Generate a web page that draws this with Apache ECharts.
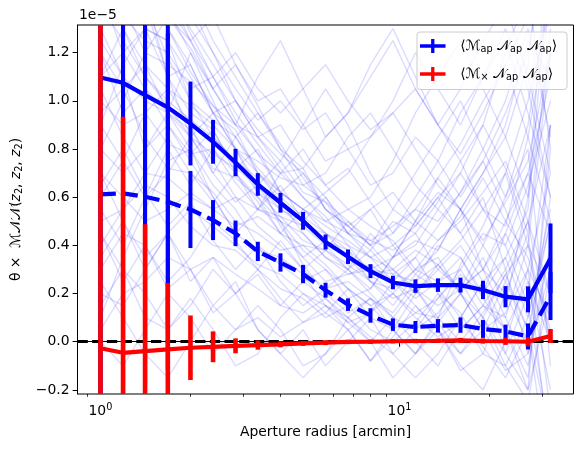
<!DOCTYPE html>
<html><head><meta charset="utf-8">
<script src="https://cdn.jsdelivr.net/npm/echarts@6/dist/echarts.min.js"></script>
<style>html,body{margin:0;padding:0;background:#fff}#c{width:583px;height:452px}</style>
</head><body><div id="c"></div>
<script>
// Aperture radii [arcmin]
const radii = [1.00, 1.19, 1.41, 1.68, 2.00, 2.38, 2.83, 3.36, 4.00, 4.76, 5.66, 6.73, 8.00, 9.51, 11.31, 13.45, 16.00, 19.03, 22.63, 26.91, 32.00];
// values in units of 1e-5
const mapMean = [1.097, 1.075, 1.024, 0.973, 0.906, 0.830, 0.744, 0.653, 0.577, 0.502, 0.414, 0.353, 0.293, 0.246, 0.231, 0.235, 0.235, 0.215, 0.187, 0.176, 0.346];
const mapErr  = [1.600, 1.300, 1.100, 0.900, 0.174, 0.091, 0.057, 0.047, 0.041, 0.037, 0.031, 0.030, 0.029, 0.028, 0.028, 0.028, 0.031, 0.038, 0.044, 0.054, 0.145];
const mapMean2 = [0.612, 0.616, 0.602, 0.581, 0.549, 0.505, 0.450, 0.375, 0.329, 0.281, 0.214, 0.154, 0.109, 0.071, 0.061, 0.066, 0.069, 0.053, 0.043, 0.022, 0.190];
const mapErr2  = [1.000, 0.900, 0.800, 0.700, 0.160, 0.083, 0.053, 0.040, 0.038, 0.038, 0.031, 0.026, 0.030, 0.026, 0.025, 0.028, 0.032, 0.037, 0.028, 0.054, 0.100];
const mxMean = [-0.027, -0.046, -0.039, -0.032, -0.025, -0.021, -0.017, -0.014, -0.011, -0.007, -0.004, -0.001, 0.000, 0.002, 0.003, 0.004, 0.006, 0.003, 0.002, 0.000, 0.024];
const mxErr  = [1.600, 0.980, 0.527, 0.276, 0.134, 0.064, 0.031, 0.019, 0.012, 0.010, 0.010, 0.009, 0.009, 0.009, 0.009, 0.009, 0.010, 0.011, 0.015, 0.019, 0.029];
// individual realisations (faint lines)
const realisations = [
 [2.10,1.90,1.60,1.30,1.15,0.95,0.80,0.62,0.55,0.48,0.40,0.30,0.22,0.35,0.50,0.62,0.55,0.30,0.10,-0.10,0.40],
 [0.60,0.75,0.95,1.05,0.90,0.70,0.58,0.65,0.50,0.32,0.20,0.12,0.18,0.05,-0.05,0.10,0.32,0.48,0.70,1.00,1.40],
 [1.50,1.35,1.25,1.20,1.05,1.10,0.92,0.78,0.70,0.72,0.55,0.48,0.40,0.45,0.60,0.75,0.95,1.10,1.25,0.95,0.60],
 [0.30,0.45,0.40,0.25,0.35,0.50,0.42,0.30,0.18,0.08,0.12,0.05,-0.08,0.02,0.15,0.05,-0.12,-0.05,0.20,0.45,-0.30],
 [1.80,1.55,1.40,1.18,1.00,0.85,0.75,0.68,0.48,0.35,0.42,0.38,0.25,0.15,0.28,0.22,0.10,0.25,-0.05,-0.20,0.90],
 [0.90,1.15,1.30,1.25,1.10,0.95,0.88,0.70,0.62,0.55,0.45,0.40,0.35,0.30,0.20,0.30,0.40,0.25,0.35,0.55,1.60],
 [1.20,1.05,0.85,0.72,0.70,0.62,0.50,0.45,0.38,0.40,0.32,0.22,0.10,0.05,0.12,0.18,0.30,0.45,0.40,0.15,-0.40],
 [2.40,2.00,1.70,1.50,1.28,1.10,0.95,0.82,0.70,0.60,0.50,0.55,0.48,0.42,0.30,0.35,0.20,0.05,0.12,0.30,0.70],
 [0.10,0.35,0.55,0.75,0.80,0.65,0.55,0.40,0.32,0.25,0.30,0.18,0.22,0.35,0.42,0.38,0.55,0.70,0.85,1.15,2.00],
 [1.60,1.70,1.55,1.35,1.22,1.05,0.90,0.85,0.72,0.60,0.52,0.40,0.28,0.20,0.10,0.02,0.08,-0.02,-0.15,0.05,0.50],
 [0.80,0.70,0.80,0.90,0.75,0.60,0.45,0.38,0.35,0.28,0.15,0.10,0.18,0.12,0.25,0.40,0.35,0.18,0.05,-0.15,0.80],
 [1.90,1.60,1.30,1.25,1.00,0.92,0.85,0.70,0.58,0.45,0.35,0.30,0.38,0.50,0.45,0.30,0.22,0.40,0.60,0.80,-0.10],
 [1.00,0.90,0.95,0.82,0.78,0.80,0.66,0.55,0.52,0.42,0.38,0.30,0.20,0.10,0.00,-0.10,0.05,0.15,0.10,0.40,1.20],
 [2.80,2.30,1.90,1.60,1.40,1.20,1.00,0.85,0.75,0.62,0.58,0.45,0.38,0.28,0.35,0.48,0.62,0.75,0.55,0.30,0.10],
 [0.50,0.55,0.65,0.60,0.48,0.40,0.38,0.30,0.22,0.18,0.10,0.15,0.05,0.00,0.08,0.20,0.12,-0.05,-0.10,0.10,0.55],
 [1.30,1.45,1.50,1.38,1.20,1.00,0.80,0.75,0.68,0.65,0.58,0.50,0.42,0.48,0.55,0.50,0.62,0.80,1.00,1.30,0.85],
 [0.70,0.60,0.50,0.55,0.62,0.55,0.48,0.52,0.45,0.35,0.25,0.28,0.32,0.25,0.15,0.05,-0.05,0.05,0.25,0.05,-0.60],
 [2.00,1.80,1.45,1.10,0.95,0.88,0.70,0.58,0.45,0.40,0.38,0.32,0.25,0.22,0.30,0.25,0.35,0.20,0.45,0.70,1.10],
 [1.40,1.25,1.10,1.00,0.92,0.85,0.75,0.62,0.52,0.48,0.45,0.38,0.30,0.35,0.40,0.55,0.45,0.60,0.30,-0.05,0.30],
 [0.20,0.15,0.30,0.45,0.55,0.48,0.40,0.32,0.28,0.20,0.15,0.08,0.12,0.20,0.12,0.10,0.20,0.35,0.15,0.60,1.80],
 [1.70,1.40,1.20,1.15,1.08,0.98,0.90,0.78,0.62,0.55,0.48,0.42,0.35,0.25,0.18,0.25,0.30,0.15,0.05,0.25,-0.20],
 [1.10,1.20,1.05,0.95,0.85,0.72,0.68,0.60,0.50,0.38,0.30,0.22,0.15,0.20,0.30,0.42,0.50,0.62,0.75,0.50,0.20],
 [2.50,2.20,1.85,1.45,1.30,1.15,1.00,0.88,0.78,0.70,0.60,0.48,0.40,0.30,0.22,0.15,0.22,0.30,0.20,0.00,0.60],
 [0.40,0.55,0.70,0.68,0.60,0.55,0.60,0.48,0.40,0.30,0.22,0.25,0.18,0.10,0.05,0.12,0.25,0.10,-0.10,-0.25,0.30],
 [1.55,1.30,1.10,0.98,0.85,0.78,0.72,0.65,0.55,0.50,0.42,0.35,0.28,0.30,0.38,0.32,0.42,0.55,0.48,0.85,1.40],
 [0.95,1.05,1.15,1.05,0.98,0.90,0.80,0.70,0.60,0.52,0.45,0.35,0.25,0.18,0.22,0.10,0.00,0.12,0.28,0.40,0.00],
 [3.00,2.50,2.00,1.70,1.45,1.25,1.10,0.95,0.82,0.68,0.55,0.45,0.35,0.40,0.48,0.60,0.70,0.55,0.40,0.65,1.00],
 [0.05,0.20,0.25,0.35,0.30,0.35,0.28,0.22,0.15,0.12,0.18,0.10,0.02,-0.05,0.05,0.18,0.28,0.20,0.35,0.10,0.50],
 [1.25,1.10,1.00,0.95,0.88,0.75,0.60,0.55,0.50,0.45,0.35,0.28,0.30,0.28,0.25,0.32,0.22,0.30,0.50,0.70,0.45],
 [1.75,1.60,1.45,1.30,1.12,0.98,0.85,0.72,0.62,0.55,0.50,0.45,0.42,0.38,0.45,0.58,0.75,0.90,0.72,0.45,1.30],
 [0.25,0.10,-0.05,-0.15,0.00,0.15,0.05,0.10,0.02,0.08,0.15,0.05,0.12,0.25,0.35,0.20,0.05,0.15,0.30,0.50,0.00],
 [0.45,0.30,0.10,0.05,0.18,0.05,-0.10,-0.05,0.10,0.20,0.12,0.22,0.15,0.05,-0.05,0.08,0.20,0.10,-0.05,0.20,0.90],
 [1.30,1.10,0.80,0.95,1.20,1.05,0.90,1.10,1.25,1.05,0.85,0.95,1.15,1.30,1.10,0.90,1.05,1.25,1.40,1.10,0.70],
 [0.90,0.75,0.60,0.70,0.85,0.95,0.80,0.65,0.75,0.90,1.05,0.90,0.70,0.55,0.70,0.85,1.00,0.80,0.60,0.90,1.50],
 [2.20,1.80,1.40,1.10,0.85,0.70,0.85,0.95,0.80,0.65,0.70,0.85,0.95,0.80,0.65,0.55,0.70,0.90,1.20,1.45,0.80],
 [0.00,-0.10,0.05,0.20,0.10,-0.05,0.05,0.15,0.05,-0.10,-0.05,0.10,0.00,-0.15,-0.05,0.05,-0.10,-0.20,0.00,0.30,-0.50],
 [1.10,1.30,1.15,0.95,0.80,0.60,0.45,0.55,0.70,0.80,0.65,0.55,0.60,0.75,0.95,1.10,1.25,1.05,0.85,0.60,1.20],
 [0.70,0.50,0.35,0.45,0.30,0.15,0.25,0.05,-0.05,0.05,-0.10,0.00,0.10,-0.05,-0.15,-0.05,0.10,0.25,0.05,-0.20,0.20],
 [1.60,1.45,1.60,1.40,1.25,1.35,1.15,1.00,1.05,0.90,0.75,0.80,0.65,0.70,0.85,0.75,0.60,0.75,0.95,1.20,1.70],
 [0.35,0.50,0.30,0.45,0.25,0.35,0.20,0.30,0.42,0.30,0.38,0.50,0.40,0.55,0.48,0.60,0.45,0.30,0.45,0.25,0.00],
 [2.60,2.10,1.75,1.55,1.35,1.20,1.05,0.92,1.00,0.88,0.95,0.80,0.85,0.95,1.05,0.90,0.75,0.55,0.70,0.40,0.20],
 [0.55,0.40,0.60,0.80,0.65,0.80,0.70,0.55,0.65,0.50,0.60,0.45,0.55,0.40,0.28,0.38,0.55,0.70,0.90,1.25,1.10],
 [1.45,1.20,1.30,1.10,1.15,0.95,1.00,0.85,0.90,0.75,0.65,0.72,0.58,0.45,0.55,0.68,0.82,1.00,1.15,0.85,0.50],
 [0.15,0.30,0.20,0.05,0.15,0.30,0.20,0.05,-0.05,-0.15,-0.05,0.05,-0.08,0.05,0.20,0.32,0.20,0.05,-0.12,-0.05,0.40],
 [1.05,0.85,0.70,0.85,0.70,0.58,0.70,0.60,0.45,0.55,0.62,0.70,0.85,1.00,1.20,1.05,0.90,1.10,1.30,1.05,0.60],
 [1.85,1.55,1.35,1.45,1.25,1.10,1.20,1.05,0.95,1.05,1.15,1.00,0.88,0.95,0.80,0.65,0.55,0.40,0.25,0.50,0.90],
 [0.65,0.80,0.62,0.48,0.58,0.42,0.30,0.40,0.25,0.15,0.22,0.30,0.45,0.35,0.50,0.68,0.55,0.42,0.58,0.75,1.20],
 [1.20,0.95,1.05,0.90,0.78,0.88,0.72,0.80,0.62,0.70,0.55,0.48,0.55,0.62,0.50,0.42,0.52,0.68,0.50,0.35,0.05],
 [0.80,1.00,1.20,1.35,1.25,1.05,1.15,0.98,0.80,0.72,0.85,0.95,1.10,1.25,1.05,0.90,0.78,0.95,1.15,1.35,1.60],
 [0.45,0.25,0.40,0.22,0.30,0.12,0.20,0.28,0.15,0.25,0.18,0.08,0.00,0.10,0.22,0.08,-0.05,0.10,0.28,0.05,-0.40]
];
const yTicks = [-0.2, 0.0, 0.2, 0.4, 0.6, 0.8, 1.0, 1.2];
const xMajorTicks = [1, 10];
const xMinorTicks = [0.9, 2, 3, 4, 5, 6, 7, 8, 9, 20, 30];

const FONT = 'DejaVu Sans';
const FS = 13.9;
const BLUE = '#0000ff', RED = '#ff0000';
const X_MIN = 0.838, X_MAX = 38.2, Y_MIN = -0.217, Y_MAX = 1.315;

const chart = echarts.init(document.getElementById('c'), null, {renderer: 'canvas'});

function pairs(vals) { return radii.map((r, i) => [r, vals[i]]); }
function errSeries(name, vals, errs, color, z, w) {
  return {
    type: 'custom', name: name, z: z, silent: true, xAxisIndex: 0,
    renderItem: function (params, api) {
      const x = api.value(0), lo = api.value(1), hi = api.value(2);
      const p1 = api.coord([x, hi]), p2 = api.coord([x, lo]);
      const cs = params.coordSys;
      const top = Math.max(cs.y, Math.min(p1[1], p2[1]));
      const bot = Math.min(cs.y + cs.height, Math.max(p1[1], p2[1]));
      if (bot <= top) return null;
      return {type: 'line', shape: {x1: p1[0], y1: top, x2: p1[0], y2: bot},
              style: {stroke: color, lineWidth: w, lineCap: 'butt'}};
    },
    data: radii.map((r, i) => [r, vals[i] - errs[i], vals[i] + errs[i]]),
    encode: {x: 0, y: [1, 2]}
  };
}

const series = [];
realisations.forEach((arr, k) => {
  series.push({type: 'line', name: 'real' + k, data: pairs(arr), symbol: 'none', silent: true, z: 1,
    lineStyle: {color: 'rgba(0,0,255,0.14)', width: 1.4}, clip: true, animation: false});
});
series.push({type: 'line', name: 'zero', data: [], z: 2, silent: true,
  markLine: {silent: true, symbol: 'none', label: {show: false}, animation: false,
    lineStyle: {color: '#000', width: 2.8, type: [10.3, 4.4]}, data: [{yAxis: 0}]}});
series.push({type: 'line', name: 'Map', data: pairs(mapMean), symbol: 'none', z: 3,
  lineStyle: {color: BLUE, width: 4.2}, itemStyle: {color: BLUE}});
series.push(errSeries('MapErr', mapMean, mapErr, BLUE, 3, 4.0));
series.push({type: 'line', name: 'Map2', data: pairs(mapMean2), symbol: 'none', z: 4,
  lineStyle: {color: BLUE, width: 4.2, type: [15.4, 6.7]}, itemStyle: {color: BLUE}});
series.push(errSeries('Map2Err', mapMean2, mapErr2, BLUE, 4, 4.0));
series.push({type: 'line', name: 'Mx', data: pairs(mxMean), symbol: 'none', z: 5,
  lineStyle: {color: RED, width: 4.2}, itemStyle: {color: RED}});
series.push(errSeries('MxErr', mxMean, mxErr, RED, 6, 4.6));

const legendIcon = 'path://M0,6.5L31,6.5L31,10.5L0,10.5Z M13.5,0L17.5,0L17.5,17L13.5,17Z';
const sub = {fontSize: 9.7, fontFamily: FONT, color: '#000', padding: [7, 0, 0, 0]};
const txt = {fontSize: FS, fontFamily: FONT, color: '#000'};

chart.setOption({
  animation: false,
  backgroundColor: '#fff',
  grid: {left: 77.5, top: 25, width: 496, height: 369, show: true, borderColor: '#000', borderWidth: 1, backgroundColor: 'transparent'},
  xAxis: [{
    type: 'log', logBase: 10, min: X_MIN, max: X_MAX, position: 'bottom',
    name: 'Aperture radius [arcmin]', nameLocation: 'middle', nameGap: 31,
    nameTextStyle: {fontFamily: FONT, fontSize: FS, color: '#000'},
    axisLine: {show: true, lineStyle: {color: '#000', width: 1}},
    axisTick: {show: true, inside: false, length: 4.9, customValues: xMajorTicks, lineStyle: {color: '#000', width: 1}},
    axisLabel: {show: true, customValues: xMajorTicks, margin: 8, color: '#000',
      formatter: function (v) { return '{b|10}{p|' + Math.round(Math.log10(v)) + '}'; },
      rich: {b: {fontSize: FS, fontFamily: FONT, color: '#000'}, p: {fontSize: 9.7, fontFamily: FONT, color: '#000', padding: [0, 0, 8, 0]}}},
    splitLine: {show: false}, minorTick: {show: false}
  }, {
    type: 'log', logBase: 10, min: X_MIN, max: X_MAX, position: 'bottom', gridIndex: 0,
    axisLine: {show: false},
    axisTick: {show: true, length: 2.8, customValues: xMinorTicks, lineStyle: {color: '#000', width: 0.8}},
    axisLabel: {show: false}, splitLine: {show: false}
  }],
  yAxis: {
    type: 'value', min: Y_MIN, max: Y_MAX,
    name: '{t|θ ×  }{c|ℳ𝒩𝒩}{t|(}{i|z}{s|2}{t|, }{i|z}{s|2}{t|, }{i|z}{s|2}{t|)}',
    nameLocation: 'middle', nameGap: 52, nameRotate: 90,
    nameTextStyle: {fontFamily: FONT, fontSize: FS, color: '#000', rich: {
      t: txt, c: {fontSize: FS, fontFamily: FONT, color: '#000'},
      i: {fontSize: FS, fontFamily: FONT, fontStyle: 'italic', color: '#000'},
      s: sub}},
    axisLine: {show: true, lineStyle: {color: '#000', width: 1}},
    axisTick: {show: true, length: 4.9, customValues: yTicks, lineStyle: {color: '#000', width: 1}},
    axisLabel: {customValues: yTicks, margin: 8, color: '#000', fontFamily: FONT, fontSize: FS,
      formatter: function (v) { return v.toFixed(1).replace('-', '\u2212'); }},
    splitLine: {show: false}
  },
  legend: {
    left: 417, top: 32, orient: 'vertical', selectedMode: false,
    data: [{name: 'Map', icon: legendIcon}, {name: 'Mx', icon: legendIcon}],
    itemWidth: 31, itemHeight: 14, itemGap: 12.5,
    padding: [7, 10, 7, 3],
    backgroundColor: 'rgba(255,255,255,0.8)', borderColor: '#cccccc', borderWidth: 1, borderRadius: 3,
    formatter: function (n) {
      const M = n === 'Map' ? '{t|⟨ℳ}{s|ap}' : '{t|⟨ℳ}{s|×}';
      return M + '{t| 𝒩}{s|ap}{t| 𝒩}{s|ap}{t|⟩}';
    },
    textStyle: {fontFamily: FONT, fontSize: FS, color: '#000', padding: [0, 0, 0, 7], rich: {t: txt, s: sub}}
  },
  graphic: [{type: 'text', left: 79, top: 8, style: {text: '1e\u22125', fontFamily: FONT, fontSize: FS, fill: '#000'}}],
  series: series
});
</script></body></html>
